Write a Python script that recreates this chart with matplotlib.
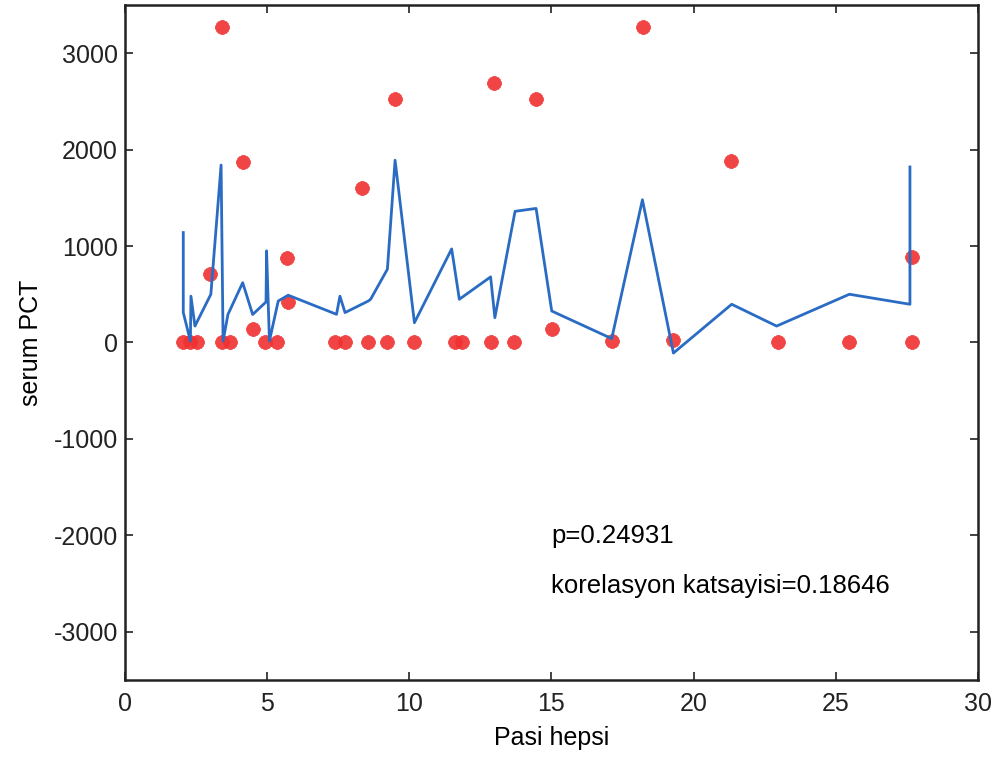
import matplotlib
matplotlib.use("Agg")
import matplotlib.pyplot as plt

# === Data ===
# scatter: Pasi hepsi vs serum PCT
pasi_x = [2.04, 2.29, 2.53, 3.41, 3.69, 4.92, 5.35, 7.39, 7.74, 8.55,
          9.22, 10.17, 11.61, 11.85, 12.87, 13.68, 17.13, 19.28, 22.97, 25.47,
          27.68,
          3.41, 2.99, 4.15, 4.50, 5.70, 5.73, 8.34, 9.50, 12.98, 14.46,
          15.02, 18.22, 21.32, 27.68]
pct_y = [0, 0, 0, 0, 0, 0, 0, 0, 0, 0,
         0, 0, 0, 0, 0, 0, 20, 30, 0, 0,
         0,
         3270, 710, 1875, 135, 875, 420, 1600, 2530, 2690, 2520,
         135, 3270, 1885, 885]

# fitted line
line_x = [2.05, 2.05, 2.30, 2.32, 2.46, 3.02, 3.38, 3.45, 3.62, 4.14,
          4.49, 4.96, 4.98, 5.08, 5.39, 5.74, 7.44, 7.56, 7.74, 8.56,
          8.64, 9.23, 9.50, 10.18, 11.49, 11.76, 12.86, 13.01, 13.72, 14.46,
          15.01, 17.12, 18.20, 19.29, 21.34, 22.92, 25.48, 27.61, 27.61]
line_y = [1140, 310, 15, 480, 170, 500, 1840, 15, 290, 620,
          290, 420, 950, 15, 430, 490, 292, 480, 310, 430,
          448, 760, 1890, 205, 970, 448, 680, 257, 1360, 1390,
          326, 40, 1480, -110, 396, 170, 500, 396, 1820]

x_ticks = [0, 5, 10, 15, 20, 25, 30]
y_ticks = [-3000, -2000, -1000, 0, 1000, 2000, 3000]

# === Plot ===
plt.rcParams['font.family'] = ['Liberation Sans', 'DejaVu Sans']
plt.rcParams['axes.unicode_minus'] = False

fig = plt.figure(figsize=(10.04, 7.64), dpi=100)
ax = fig.add_axes([0.1245, 0.110, 0.8495, 0.8835])

ax.plot(pasi_x, pct_y, linestyle="none", marker=(8, 2, 0), markersize=10,
        markeredgewidth=3, color="#f03030", alpha=0.9)
ax.plot(line_x, line_y, color="#2a6cc4", linewidth=2)

ax.set_xlim(0, 30)
ax.set_ylim(-3500, 3500)
ax.set_xticks(x_ticks)
ax.set_yticks(y_ticks)
ax.tick_params(direction="in", length=6, width=1.2, labelsize=18,
               top=True, right=True, colors="#222222")
ax.tick_params(axis="x", pad=9)
ax.tick_params(axis="y", pad=5)
for s in ax.spines.values():
    s.set_linewidth(1.8)
    s.set_color("#222222")

ax.set_xlabel("Pasi hepsi", fontsize=18, labelpad=7)
ax.set_ylabel("serum PCT", fontsize=18, labelpad=8)

ax.text(15, -2010, "p=0.24931", fontsize=18.5, va="center", ha="left")
ax.text(15, -2530, "korelasyon katsayisi=0.18646", fontsize=18.5, va="center", ha="left")

fig.savefig("out.png", dpi=100)
